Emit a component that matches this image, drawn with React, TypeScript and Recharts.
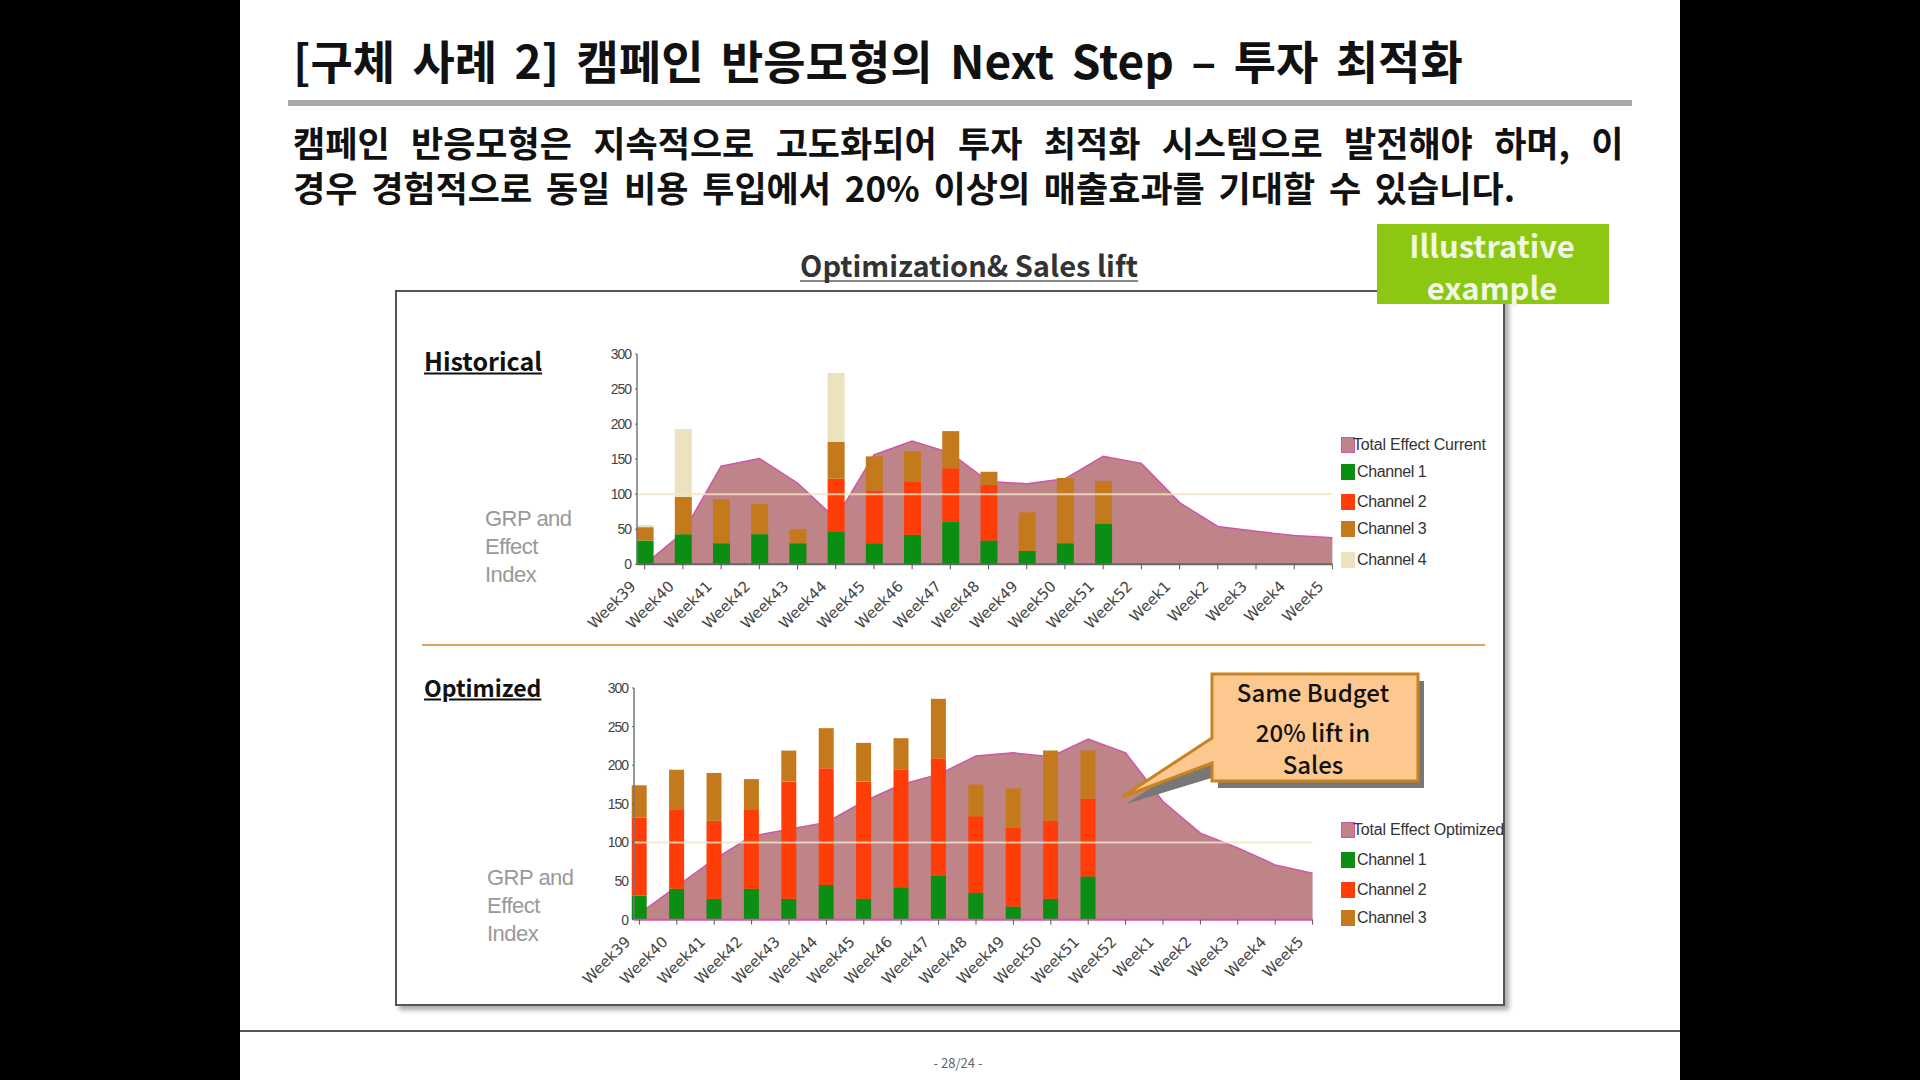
import { ComposedChart, Area, Bar, XAxis, YAxis, ReferenceLine, Legend } from 'recharts';
import type { CSSProperties, ReactNode } from 'react';

const weeks = ['Week39', 'Week40', 'Week41', 'Week42', 'Week43', 'Week44', 'Week45', 'Week46', 'Week47', 'Week48', 'Week49', 'Week50', 'Week51', 'Week52', 'Week1', 'Week2', 'Week3', 'Week4', 'Week5'];
const yTicks = [0, 50, 100, 150, 200, 250, 300];

const histTotal = [0, 45, 140, 151, 116, 65, 156, 176, 159, 118, 115, 122, 154, 144, 88, 54, 47, 41, 38];
const histCh1 = [34, 43, 30, 43, 30, 47, 30, 42, 61, 34, 19, 30, 58];
const histCh2 = [0, 0, 0, 0, 0, 75, 75, 76, 76, 79, 0, 0, 0];
const histCh3 = [19, 53, 63, 43, 20, 53, 49, 43, 53, 19, 55, 93, 61];
const histCh4 = [3, 97, 0, 0, 0, 98, 0, 0, 0, 0, 0, 0, 0];

const optTotal = [8, 43, 78, 108, 117, 126, 153, 175, 188, 212, 216, 211, 234, 216, 153, 112, 93, 71, 60];
const optCh1 = [31, 40, 27, 40, 27, 45, 27, 42, 57, 35, 17, 27, 56];
const optCh2 = [101, 102, 101, 102, 152, 151, 152, 152, 152, 99, 102, 101, 101];
const optCh3 = [42, 52, 62, 40, 40, 52, 50, 41, 77, 41, 51, 91, 62];

const histData = weeks.map((week, i) => ({ week, total: histTotal[i], ch1: histCh1[i], ch2: histCh2[i], ch3: histCh3[i], ch4: histCh4[i] }));
const optData = weeks.map((week, i) => ({ week, total: optTotal[i], ch1: optCh1[i], ch2: optCh2[i], ch3: optCh3[i] }));

const KR = '"Noto Sans CJK KR", sans-serif';
const AREA_FILL = '#bf8488';
const AREA_LINE = '#d055ac';
const GREEN = '#0b8f12';
const RED = '#ff3d08';
const BROWN = '#c47a1c';
const CREAM = '#ebe3bd';

function Txt({ x, y, size, children, style, center }: { x: number; y: number; size: number; children: ReactNode; style?: CSSProperties; center?: boolean }) {
  return (
    <div
      style={{
        position: 'absolute', left: x, top: y, fontSize: size, lineHeight: 1, whiteSpace: 'nowrap',
        transform: center ? 'translate(-50%, -50%)' : 'translateY(-50%)', fontFamily: KR, color: '#111', ...style,
      }}
    >
      {children}
    </div>
  );
}

function WeekTick({ x, y, payload }: any) {
  return (
    <text
      transform={`translate(${x - 8},${y + 16}) rotate(-45)`}
      textAnchor="end"
      fontSize={15}
      fill="#444"
      fontFamily='"DejaVu Sans", sans-serif'
    >
      {payload.value}
    </text>
  );
}

function makeLegend(rows: number[]) {
  return ({ payload }: any) => (
    <div style={{ position: 'relative', width: 170, height: 150 }}>
      {(payload ?? []).map((p: any, i: number) => (
        <div key={p.value} style={{ position: 'absolute', left: 0, top: rows[i], height: 18, whiteSpace: 'nowrap' }}>
          <span
            style={{
              position: 'absolute', left: 0, top: 0, width: 14, height: 16, boxSizing: 'border-box',
              background: i === 0 ? AREA_FILL : p.color,
              border: i === 0 ? `1.5px solid ${AREA_LINE}` : 'none',
            }}
          />
          <span
            style={{
              position: 'absolute', left: i === 0 ? 12 : 16, top: 0, fontFamily: '"Liberation Sans", sans-serif',
              fontSize: 16, letterSpacing: i === 0 ? -0.2 : -0.4, lineHeight: '16px', color: '#333',
            }}
          >
            {p.value}
          </span>
        </div>
      ))}
    </div>
  );
}

function Panel({ data, width, plotTop, plotH, pad, barSize, baseColor, names, rows, legendLeft, legendTop, hasCh4 }: any) {
  return (
    <ComposedChart
      width={width + 80 + 300}
      height={plotTop + plotH + 80}
      data={data}
      margin={{ top: plotTop, right: 300, bottom: 0, left: 40 }}
      barCategoryGap={0}
    >
      <XAxis
        dataKey="week"
        scale="point"
        padding={{ left: pad, right: 0 }}
        interval={0}
        height={80}
        tickSize={5}
        tick={<WeekTick />}
        tickLine={{ stroke: '#555' }}
        axisLine={{ stroke: baseColor, strokeWidth: 2 }}
      />
      <YAxis
        width={40}
        domain={[0, 300]}
        ticks={yTicks}
        tickSize={2}
        tick={{ fontSize: 14, fill: '#444', fontFamily: '"Liberation Sans", sans-serif', letterSpacing: -1, dx: -2 }}
        tickLine={{ stroke: '#666' }}
        axisLine={{ stroke: '#777', strokeWidth: 1.5 }}
      />
      <Area dataKey="total" name={names[0]} type="linear" fill={AREA_FILL} fillOpacity={1} stroke={AREA_LINE} strokeWidth={1.5} dot={false} isAnimationActive={false} />
      <Bar dataKey="ch1" name="Channel 1" stackId="a" fill={GREEN} barSize={barSize} isAnimationActive={false} />
      <Bar dataKey="ch2" name="Channel 2" stackId="a" fill={RED} barSize={barSize} isAnimationActive={false} />
      <Bar dataKey="ch3" name="Channel 3" stackId="a" fill={BROWN} barSize={barSize} isAnimationActive={false} />
      {hasCh4 && <Bar dataKey="ch4" name="Channel 4" stackId="a" fill={CREAM} barSize={barSize} isAnimationActive={false} />}
      <ReferenceLine y={100} stroke="#f3e4c6" strokeWidth={2} strokeOpacity={0.8} />
      <Legend
        layout="horizontal"
        verticalAlign="middle"
        align="center"
        itemSorter={null}
        content={makeLegend(rows)}
        wrapperStyle={{ left: legendLeft, top: legendTop, width: 170 }}
      />
    </ComposedChart>
  );
}

export default function App() {
  return (
    <div style={{ position: 'absolute', left: 0, top: 0, width: 1920, height: 1080, background: '#000', overflow: 'hidden' }}>
      <div style={{ position: 'absolute', left: 240, top: 0, width: 1440, height: 1080, background: '#fff' }} />

      <Txt x={293} y={59} size={46} style={{ fontWeight: 700, wordSpacing: 7 }}>[구체 사례 2] 캠페인 반응모형의 Next Step – 투자 최적화</Txt>
      <div style={{ position: 'absolute', left: 288, top: 100, width: 1344, height: 6, background: '#a8a8a8' }} />
      <Txt x={293} y={141} size={35} style={{ fontWeight: 700, wordSpacing: 13.4 }}>캠페인 반응모형은 지속적으로 고도화되어 투자 최적화 시스템으로 발전해야 하며, 이</Txt>
      <Txt x={293} y={186} size={35} style={{ fontWeight: 700, wordSpacing: 5.8 }}>경우 경험적으로 동일 비용 투입에서 20% 이상의 매출효과를 기대할 수 있습니다.</Txt>

      <Txt x={969} y={266} size={29} center style={{ fontWeight: 700, color: '#333', borderBottom: '2px solid #888', paddingBottom: 1 }}>Optimization&amp; Sales lift</Txt>

      <div style={{ position: 'absolute', left: 395, top: 290, width: 1110, height: 716, boxSizing: 'border-box', border: '2px solid #555', background: '#fff', boxShadow: '4px 4px 5px #aaa' }} />

      <div style={{ position: 'absolute', left: 1377, top: 224, width: 232, height: 80, background: '#8cc811' }} />
      <Txt x={1492} y={244} size={31} center style={{ color: '#f2f6e4', fontWeight: 700 }}>Illustrative</Txt>
      <Txt x={1492} y={286} size={31} center style={{ color: '#f2f6e4', fontWeight: 700 }}>example</Txt>

      <Txt x={424} y={360} size={25} style={{ fontWeight: 700, textDecoration: 'underline' }}>Historical</Txt>
      <Txt x={424} y={687} size={23} style={{ fontWeight: 700, textDecoration: 'underline' }}>Optimized</Txt>

      {['GRP and', 'Effect', 'Index'].map((s, i) => (
        <Txt key={s} x={485} y={519 + i * 28} size={22} style={{ color: '#999', fontFamily: '"Liberation Sans", sans-serif', letterSpacing: -0.5 }}>{s}</Txt>
      ))}
      {['GRP and', 'Effect', 'Index'].map((s, i) => (
        <Txt key={s} x={487} y={878 + i * 28} size={22} style={{ color: '#999', fontFamily: '"Liberation Sans", sans-serif', letterSpacing: -0.5 }}>{s}</Txt>
      ))}

      <div style={{ position: 'absolute', left: 422, top: 644, width: 1063, height: 2, background: '#dba35a' }} />

      <div style={{ position: 'absolute', left: 557, top: 344 }}>
        <Panel
          data={histData} width={695.4} plotTop={10} plotH={210.3} pad={7.7} barSize={17} baseColor="#666"
          names={['Total Effect Current']} rows={[93, 120, 150, 177, 208]} legendLeft={784} legendTop={0} hasCh4
        />
      </div>
      <div style={{ position: 'absolute', left: 554, top: 678 }}>
        <Panel
          data={optData} width={678.6} plotTop={10} plotH={231.7} pad={5.4} barSize={15} baseColor={AREA_LINE}
          names={['Total Effect Optimized']} rows={[144, 174, 204, 232]} legendLeft={787} legendTop={0}
        />
      </div>

      <svg width={1920} height={1080} style={{ position: 'absolute', left: 0, top: 0, pointerEvents: 'none' }}>
        <polygon points="1218,681 1424,681 1424,788 1218,788 1218,776 1126,804 1218,745" fill="#777" />
        <polygon points="1212,674 1418,674 1418,781 1212,781 1212,763 1122,797 1212,738" fill="#fdc890" stroke="#c8821e" strokeWidth={3} />
      </svg>
      <Txt x={1313} y={692} size={24} center style={{ fontWeight: 500 }}>Same Budget</Txt>
      <Txt x={1313} y={732} size={24} center style={{ fontWeight: 500 }}>20% lift in</Txt>
      <Txt x={1313} y={764} size={24} center style={{ fontWeight: 500 }}>Sales</Txt>

      <div style={{ position: 'absolute', left: 240, top: 1030, width: 1440, height: 2, background: '#555' }} />
      <Txt x={958} y={1062} size={13} center style={{ color: '#666' }}>- 28/24 -</Txt>
    </div>
  );
}
